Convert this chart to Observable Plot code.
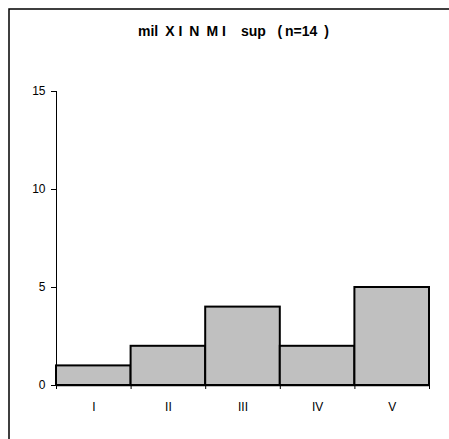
<!DOCTYPE html>
<html><head><meta charset="utf-8">
<script src="https://cdn.jsdelivr.net/npm/d3@7"></script>
<script src="https://cdn.jsdelivr.net/npm/@observablehq/plot@0.6"></script>
<style>body{margin:0;background:#fff;} svg{display:block;}</style>
</head><body><div id="chart"></div>
<script>
const title = "mil\u2002X\u00A0I\u2002N\u2002M\u00A0I\u2003\u200Asup\u00A0\u00A0\u00A0(\u2009n=14\u2002)";
const categories = ["I", "II", "III", "IV", "V"];
const counts = [1, 2, 4, 2, 5];
const yTicks = [0, 5, 10, 15];

const data = categories.map((c, i) => ({cat: c, i, n: counts[i]}));

const plot = Plot.plot({
  width: 449, height: 439,
  marginLeft: 56, marginRight: 20, marginTop: 91, marginBottom: 54,
  style: {fontFamily: "Arial, 'Liberation Sans', sans-serif", fontSize: "12px", color: "#000", background: "#fff"},
  x: {type: "linear", domain: [0, categories.length]},
  y: {domain: [0, 15]},
  marks: [
    Plot.rectY(data, {x1: d => d.i, x2: d => d.i + 1, y: "n", fill: "#C0C0C0", stroke: "#000", strokeWidth: 2}),
    Plot.axisY({ticks: yTicks, tickSize: 5, tickPadding: 6, label: null, stroke: "#000", fontSize: 12}),
    Plot.ruleX([0], {stroke: "#000", strokeWidth: 1}),
    Plot.ruleY([0], {stroke: "#000", strokeWidth: 1.5}),
    Plot.axisX({ticks: d3.range(categories.length + 1), tickSize: 4, tickFormat: () => "", label: null, stroke: "#000"}),
    Plot.axisX({ticks: categories.map((c, i) => i + 0.5), tickSize: 0, tickPadding: 17, tickFormat: v => categories[Math.floor(v)], label: null, fontSize: 12}),
    Plot.text([title], {frameAnchor: "top", lineAnchor: "middle", dy: -60, dx: -9.5, text: d => d, fontWeight: "bold", fontSize: 14, fill: "#000"})
  ]
});
d3.select(plot).append("rect").attr("x", 9).attr("y", 9).attr("width", 600).attr("height", 600)
  .attr("fill", "none").attr("stroke", "#000").attr("stroke-width", 1.5);
document.getElementById("chart").append(plot);
</script></body></html>
